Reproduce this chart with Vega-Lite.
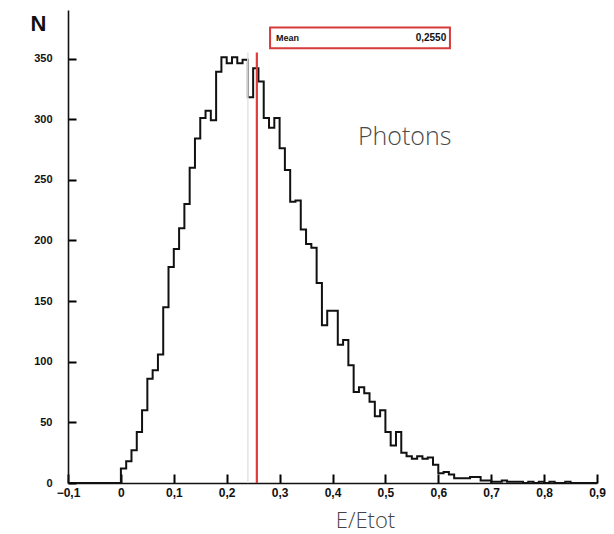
{
  "$schema": "https://vega.github.io/schema/vega-lite/v6.json",
  "width": 529,
  "height": 473,
  "autosize": "none",
  "padding": {"left": 68, "top": 10, "right": 17, "bottom": 51},
  "background": "white",
  "config": {"view": {"stroke": null}, "font": "Liberation Sans"},
  "datasets": {
    "hist": [
      {"x": -0.1, "n": 0}, {"x": 0.0, "n": 12}, {"x": 0.01, "n": 18}, {"x": 0.02, "n": 27}, {"x": 0.03, "n": 42},
      {"x": 0.04, "n": 60}, {"x": 0.05, "n": 86}, {"x": 0.06, "n": 93}, {"x": 0.07, "n": 106}, {"x": 0.08, "n": 145},
      {"x": 0.09, "n": 178}, {"x": 0.10, "n": 193}, {"x": 0.11, "n": 210}, {"x": 0.12, "n": 230}, {"x": 0.13, "n": 260},
      {"x": 0.14, "n": 284}, {"x": 0.15, "n": 301}, {"x": 0.16, "n": 307}, {"x": 0.17, "n": 299}, {"x": 0.18, "n": 339},
      {"x": 0.19, "n": 351}, {"x": 0.20, "n": 346}, {"x": 0.21, "n": 351}, {"x": 0.22, "n": 346}, {"x": 0.23, "n": 349},
      {"x": 0.24, "n": 318}, {"x": 0.25, "n": 342}, {"x": 0.26, "n": 331}, {"x": 0.27, "n": 301}, {"x": 0.28, "n": 293},
      {"x": 0.29, "n": 301}, {"x": 0.30, "n": 276}, {"x": 0.31, "n": 258}, {"x": 0.32, "n": 232}, {"x": 0.33, "n": 233},
      {"x": 0.34, "n": 209}, {"x": 0.35, "n": 197}, {"x": 0.36, "n": 194}, {"x": 0.37, "n": 165}, {"x": 0.38, "n": 130},
      {"x": 0.39, "n": 142}, {"x": 0.40, "n": 142}, {"x": 0.41, "n": 114}, {"x": 0.42, "n": 118}, {"x": 0.43, "n": 97},
      {"x": 0.44, "n": 75}, {"x": 0.45, "n": 79}, {"x": 0.46, "n": 74}, {"x": 0.47, "n": 67}, {"x": 0.48, "n": 55},
      {"x": 0.49, "n": 60}, {"x": 0.50, "n": 42}, {"x": 0.51, "n": 31}, {"x": 0.52, "n": 42}, {"x": 0.53, "n": 25},
      {"x": 0.54, "n": 22}, {"x": 0.55, "n": 20}, {"x": 0.56, "n": 22}, {"x": 0.57, "n": 20}, {"x": 0.58, "n": 21},
      {"x": 0.59, "n": 15}, {"x": 0.60, "n": 8}, {"x": 0.61, "n": 9}, {"x": 0.62, "n": 7}, {"x": 0.63, "n": 4},
      {"x": 0.64, "n": 4}, {"x": 0.65, "n": 4}, {"x": 0.66, "n": 5}, {"x": 0.67, "n": 5}, {"x": 0.68, "n": 2},
      {"x": 0.69, "n": 2}, {"x": 0.70, "n": 1}, {"x": 0.71, "n": 1}, {"x": 0.72, "n": 2}, {"x": 0.73, "n": 1},
      {"x": 0.74, "n": 1}, {"x": 0.75, "n": 1}, {"x": 0.76, "n": 0}, {"x": 0.77, "n": 1}, {"x": 0.78, "n": 0},
      {"x": 0.79, "n": 1}, {"x": 0.80, "n": 0}, {"x": 0.81, "n": 1}, {"x": 0.82, "n": 0}, {"x": 0.83, "n": 0},
      {"x": 0.84, "n": 1}, {"x": 0.85, "n": 0}, {"x": 0.9, "n": 0}
    ],
    "marks": [
      {"kind": "mean", "x": 0.257, "y0": 0, "y1": 355},
      {"kind": "faint", "x": 0.240, "y0": 0, "y1": 355}
    ],
    "box": [{"x0": 0.282, "x1": 0.622, "y0": 358.5, "y1": 375.5}],
    "labels": [
      {"t": "Mean", "x": 0.293, "y": 367, "a": "left"},
      {"t": "0,2550", "x": 0.615, "y": 367, "a": "right"}
    ],
    "note": [{"t": "Photons", "x": 0.448, "y": 285}]
  },
  "layer": [
    {
      "data": {"name": "hist"},
      "mark": {"type": "line", "interpolate": "step-after", "color": "#111111", "strokeWidth": 2, "clip": true},
      "encoding": {
        "x": {
          "field": "x", "type": "quantitative",
          "scale": {"domain": [-0.1, 0.9], "nice": false, "zero": false},
          "axis": {
            "orient": "bottom",
            "values": [-0.1, 0, 0.1, 0.2, 0.3, 0.4, 0.5, 0.6, 0.7, 0.8, 0.9],
            "labelExpr": "datum.value == 0 ? '0' : replace(format(datum.value, '.1f'), '.', ',')",
            "grid": false, "ticks": true, "tickSize": -9, "tickColor": "#000000", "tickWidth": 2, "tickOpacity": 1,
            "domainColor": "#111", "domainWidth": 1.6,
            "labelFont": "Liberation Sans", "labelFontWeight": "bold", "labelFontSize": 12, "labelColor": "#111",
            "labelPadding": 13, "labelFlush": false, "labelOverlap": false,
            "title": "E/Etot", "titleFont": "Open Sans", "titleFontWeight": 300, "titleFontSize": 22, "titleColor": "#444",
            "titleX": 297, "titleY": 37, "titleAnchor": null, "titleAlign": "center", "titleBaseline": "middle"
          }
        },
        "y": {
          "field": "n", "type": "quantitative",
          "scale": {"domain": [0, 390], "nice": false},
          "axis": {
            "orient": "left",
            "values": [0, 25, 50, 75, 100, 125, 150, 175, 200, 225, 250, 275, 300, 325, 350, 375],
            "labelExpr": "datum.value % 50 == 0 ? format(datum.value, 'd') : ''",
            "grid": false, "ticks": true, "tickSize": -8, "tickColor": "#000000", "tickOpacity": 1,
            "tickWidth": {"condition": {"test": "datum.value % 50 == 0", "value": 2}, "value": 1.2},
            "domainColor": "#111", "domainWidth": 1.6,
            "labelFont": "Liberation Sans", "labelFontWeight": "bold", "labelFontSize": 11, "labelColor": "#111",
            "labelPadding": 24, "labelOverlap": false, "labelFlush": false,
            "title": "N", "titleFont": "Liberation Sans", "titleFontWeight": "bold", "titleFontSize": 22, "titleColor": "#111",
            "titleAngle": 0, "titleX": -30, "titleY": 13, "titleAlign": "center", "titleBaseline": "middle"
          }
        }
      }
    },
    {
      "data": {"name": "marks"},
      "transform": [{"filter": "datum.kind == 'faint'"}],
      "mark": {"type": "rule", "color": "#e4e4e4", "strokeWidth": 1.5},
      "encoding": {
        "x": {"field": "x", "type": "quantitative"},
        "y": {"field": "y0", "type": "quantitative"},
        "y2": {"field": "y1"}
      }
    },
    {
      "data": {"name": "marks"},
      "transform": [{"filter": "datum.kind == 'mean'"}],
      "mark": {"type": "rule", "color": "#e03a3a", "strokeWidth": 2.2},
      "encoding": {
        "x": {"field": "x", "type": "quantitative"},
        "y": {"field": "y0", "type": "quantitative"},
        "y2": {"field": "y1"}
      }
    },
    {
      "data": {"name": "box"},
      "mark": {"type": "rect", "fill": "white", "stroke": "#d63a3a", "strokeWidth": 2},
      "encoding": {
        "x": {"field": "x0", "type": "quantitative"},
        "x2": {"field": "x1"},
        "y": {"field": "y0", "type": "quantitative"},
        "y2": {"field": "y1"}
      }
    },
    {
      "data": {"name": "labels"},
      "transform": [{"filter": "datum.a == 'left'"}],
      "mark": {"type": "text", "font": "Liberation Sans", "fontWeight": "bold", "fontSize": 9, "color": "#111", "baseline": "middle", "align": "left"},
      "encoding": {
        "x": {"field": "x", "type": "quantitative"},
        "y": {"field": "y", "type": "quantitative"},
        "text": {"field": "t"}
      }
    },
    {
      "data": {"name": "labels"},
      "transform": [{"filter": "datum.a == 'right'"}],
      "mark": {"type": "text", "font": "Liberation Sans", "fontWeight": "bold", "fontSize": 10, "color": "#111", "baseline": "middle", "align": "right"},
      "encoding": {
        "x": {"field": "x", "type": "quantitative"},
        "y": {"field": "y", "type": "quantitative"},
        "text": {"field": "t"}
      }
    },
    {
      "data": {"name": "note"},
      "mark": {"type": "text", "font": "Open Sans", "fontWeight": 300, "fontSize": 25, "color": "#4a4a4a", "align": "left", "baseline": "middle"},
      "encoding": {
        "x": {"field": "x", "type": "quantitative"},
        "y": {"field": "y", "type": "quantitative"},
        "text": {"field": "t"}
      }
    }
  ]
}
